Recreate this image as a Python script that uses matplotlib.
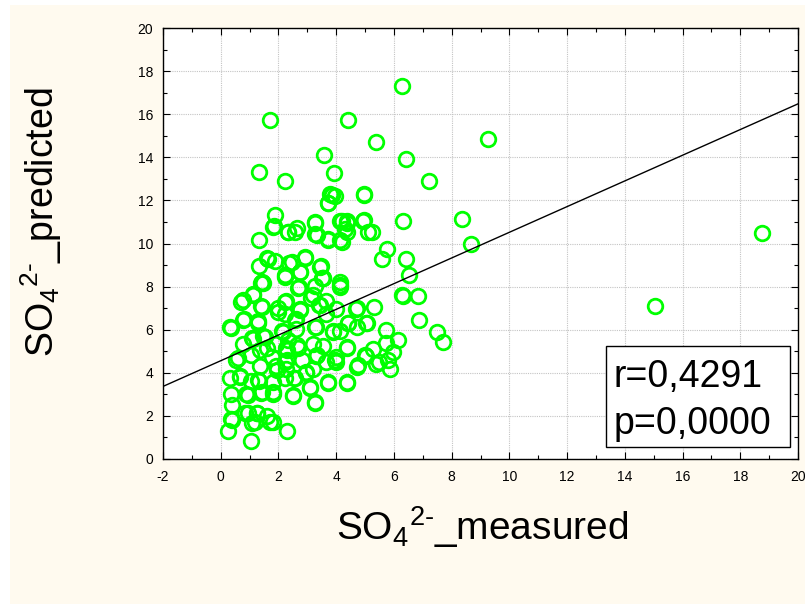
import matplotlib
matplotlib.use("Agg")
import matplotlib.pyplot as plt
from matplotlib.patches import Rectangle
from matplotlib.ticker import MultipleLocator
import numpy as np

plt.rcParams['font.family'] = ['Liberation Sans', 'DejaVu Sans']
plt.rcParams['mathtext.fontset'] = 'custom'
plt.rcParams['mathtext.rm'] = 'Liberation Sans'
plt.rcParams['mathtext.it'] = 'Liberation Sans'
plt.rcParams['axes.unicode_minus'] = False

# ---- data ----
measured = [
    6.28, 1.71, 4.40, 5.39, 3.57, 6.43, 1.32, 3.92, 2.22, 7.20, 4.95, 3.79, 3.95, 3.70,
    1.88, 1.84, 2.33, 2.63, 2.59, 3.26, 3.28, 3.70, 4.14, 4.39, 4.32, 4.14, 4.95, 5.25,
    6.31, 1.34, 5.76, 5.58, 6.43, 9.25, 8.36, 8.68, 18.77, 6.51, 6.27, 6.30, 6.83, 6.86,
    15.04, 7.48, 7.69, 5.73, 6.14, 5.73, 5.96, 5.79, 5.88,
    1.32, 1.63, 1.88, 2.38, 2.93, 3.48, 3.54, 2.21, 1.41, 2.73, 2.71, 3.25, 4.12, 1.12,
    0.70, 1.41, 1.98, 2.21, 2.27, 2.73, 3.13, 3.42, 3.65, 3.65, 3.98, 4.69, 5.30, 4.72,
    5.04, 4.40, 3.88, 4.12, 2.61, 2.61, 3.29, 2.13, 1.29, 0.79, 0.35, 1.12, 1.47, 0.77,
    1.06, 1.59, 1.93, 2.27, 2.67, 3.19, 3.54, 3.31, 4.36, 4.00, 3.65, 4.76, 5.04, 5.27,
    5.50, 5.39, 0.54, 0.31, 0.66, 1.06, 1.35, 1.32, 1.93, 2.21, 1.82, 2.27, 2.55, 2.96,
    3.19, 3.71, 4.37, 3.08, 0.37, 0.88, 1.40, 1.82, 2.50, 3.25, 0.40, 0.95, 1.27, 1.59,
    1.82, 0.35, 1.18, 0.25, 1.06, 2.30,
    1.48, 1.13, 0.78, 1.42, 2.00, 2.23, 0.78, 1.30, 0.32, 1.07, 1.53, 2.17, 2.34, 1.36,
    0.61, 1.77, 2.28, 2.28,
    2.69, 3.55, 4.13, 3.21, 2.75, 3.44, 4.71, 2.57, 3.27, 3.90, 4.42, 5.06, 2.63, 3.33,
    4.36, 2.81, 3.96, 5.00,
    0.67, 1.30, 0.96, 1.42, 1.82, 0.84, 1.25, 1.71, 0.38, 1.07, 1.94, 2.23,
    2.57, 2.97, 3.09, 3.27, 3.73, 4.36, 2.51, 4.71, 4.01,
    1.82, 2.34, 1.59, 2.23, 1.42, 3.84, 3.73, 4.96, 3.27, 3.33, 3.73, 4.19, 4.36, 4.36,
    4.19, 4.94, 5.11, 2.46, 2.92, 2.75, 3.44, 3.50, 4.13,
]
predicted = [
    17.30, 15.74, 15.74, 14.69, 14.09, 13.92, 13.32, 13.26, 12.91, 12.91, 12.32, 12.28, 12.20, 11.90,
    11.32, 10.80, 10.55, 10.74, 10.54, 11.00, 10.43, 10.20, 11.05, 11.05, 10.66, 10.17, 11.09, 10.55,
    11.06, 10.15, 9.74, 9.29, 9.30, 14.86, 11.15, 10.00, 10.47, 8.52, 7.62, 7.55, 7.55, 6.43,
    7.10, 5.90, 5.43, 5.97, 5.50, 5.40, 4.97, 4.60, 4.17,
    8.95, 9.26, 9.17, 9.10, 9.38, 8.95, 8.42, 8.53, 8.15, 8.69, 8.00, 8.03, 8.06, 7.64,
    7.28, 7.09, 7.02, 6.71, 7.33, 6.94, 7.48, 7.13, 7.33, 6.71, 6.94, 6.94, 7.05, 6.14,
    6.32, 6.32, 5.94, 5.94, 6.48, 6.05, 6.14, 5.94, 6.40, 6.48, 6.10, 5.55, 5.70, 5.32,
    4.82, 5.17, 5.32, 5.17, 5.17, 5.32, 5.25, 4.79, 5.17, 4.71, 4.48, 4.36, 4.79, 5.10,
    4.48, 4.40, 4.60, 3.78, 3.86, 3.63, 4.33, 3.63, 4.33, 4.48, 3.55, 4.17, 3.78, 4.02,
    4.17, 3.55, 3.55, 3.32, 3.00, 3.00, 3.05, 3.00, 2.94, 2.62, 2.52, 2.15, 2.15, 2.00,
    1.72, 1.84, 1.70, 1.28, 0.85, 1.28,
    8.15, 7.61, 7.38, 7.07, 6.84, 7.30, 6.45, 6.30, 6.14, 5.60, 5.68, 5.91, 5.52, 5.06,
    4.67, 4.75, 5.06, 4.59,
    7.92, 8.38, 8.00, 7.61, 6.91, 7.15, 6.99, 6.45, 6.14, 5.91, 6.30, 6.30, 5.29, 4.83,
    5.21, 4.59, 4.59, 4.83,
    3.82, 3.67, 2.97, 3.12, 3.12, 2.12, 2.12, 1.73, 1.81, 1.65, 4.13, 3.74,
    3.74, 3.98, 3.28, 2.66, 3.51, 3.51, 2.97, 4.28, 4.51,
    10.78, 10.55, 9.31, 8.46, 8.23, 12.25, 11.87, 12.25, 10.94, 10.39, 10.16, 11.03, 10.94, 10.55,
    10.08, 11.03, 10.55, 9.16, 9.31, 8.69, 8.92, 8.38, 8.23,
]
fit_intercept = 4.56
fit_slope = 0.596
r_text = "r=0,4291"
p_text = "p=0,0000"
x_ticks = [-2, 0, 2, 4, 6, 8, 10, 12, 14, 16, 18, 20]
y_ticks = [0, 2, 4, 6, 8, 10, 12, 14, 16, 18, 20]

W, H = 805, 604
fig = plt.figure(figsize=(W / 100, H / 100), dpi=100, facecolor='white')
fig.patches.append(Rectangle((10 / W, 0), 1, 1 - 5 / H, transform=fig.transFigure,
                             facecolor='#fffaef', edgecolor='none', zorder=-10))

ax = fig.add_axes([163 / W, 1 - 459 / H, (798 - 163) / W, (459 - 28) / H])
ax.set_facecolor('white')
ax.set_xlim(-2, 20)
ax.set_ylim(0, 20)
ax.set_xticks(x_ticks)
ax.set_yticks(y_ticks)
ax.xaxis.set_minor_locator(MultipleLocator(1))
ax.yaxis.set_minor_locator(MultipleLocator(1))
ax.tick_params(which='both', direction='in', top=True, right=True, labelsize=10, color='black')
ax.tick_params(which='major', length=5, width=0.8)
ax.tick_params(which='minor', length=3, width=0.8)
ax.tick_params(axis='x', pad=8)
ax.tick_params(axis='y', pad=7)
ax.grid(True, which='major', color='#c4c4c4', linestyle=(0, (1, 1)), linewidth=0.8)
ax.set_axisbelow(True)
for s in ax.spines.values():
    s.set_linewidth(1.0)
    s.set_color('black')

ax.plot(measured, predicted, linestyle='none', marker='o', markersize=10.5,
        markerfacecolor='none', markeredgecolor='#00ff00', markeredgewidth=2.0, zorder=3)

xl = np.array([-2, 20])
ax.plot(xl, fit_intercept + fit_slope * xl, color='black', linewidth=1.0, zorder=4)

ax.add_patch(Rectangle((0.698, 0.028), 0.289, 0.234, transform=ax.transAxes,
                       facecolor='white', edgecolor='black', linewidth=1.0, zorder=5))
ax.text(0.709, 0.167, r_text, transform=ax.transAxes, fontsize=27, ha='left',
        va='baseline', zorder=6)
ax.text(0.709, 0.058, p_text, transform=ax.transAxes, fontsize=27, ha='left',
        va='baseline', zorder=6)

fig.text(482 / W, 1 - 527 / H, r'SO$_4$$^{2\text{-}}$_measured', fontsize=28,
         ha='center', va='center')
fig.text(41 / W, 1 - 222 / H, r'SO$_4$$^{2\text{-}}$_predicted', fontsize=27,
         ha='center', va='center', rotation=90)

fig.savefig('out.png', dpi=100, facecolor=fig.get_facecolor())
